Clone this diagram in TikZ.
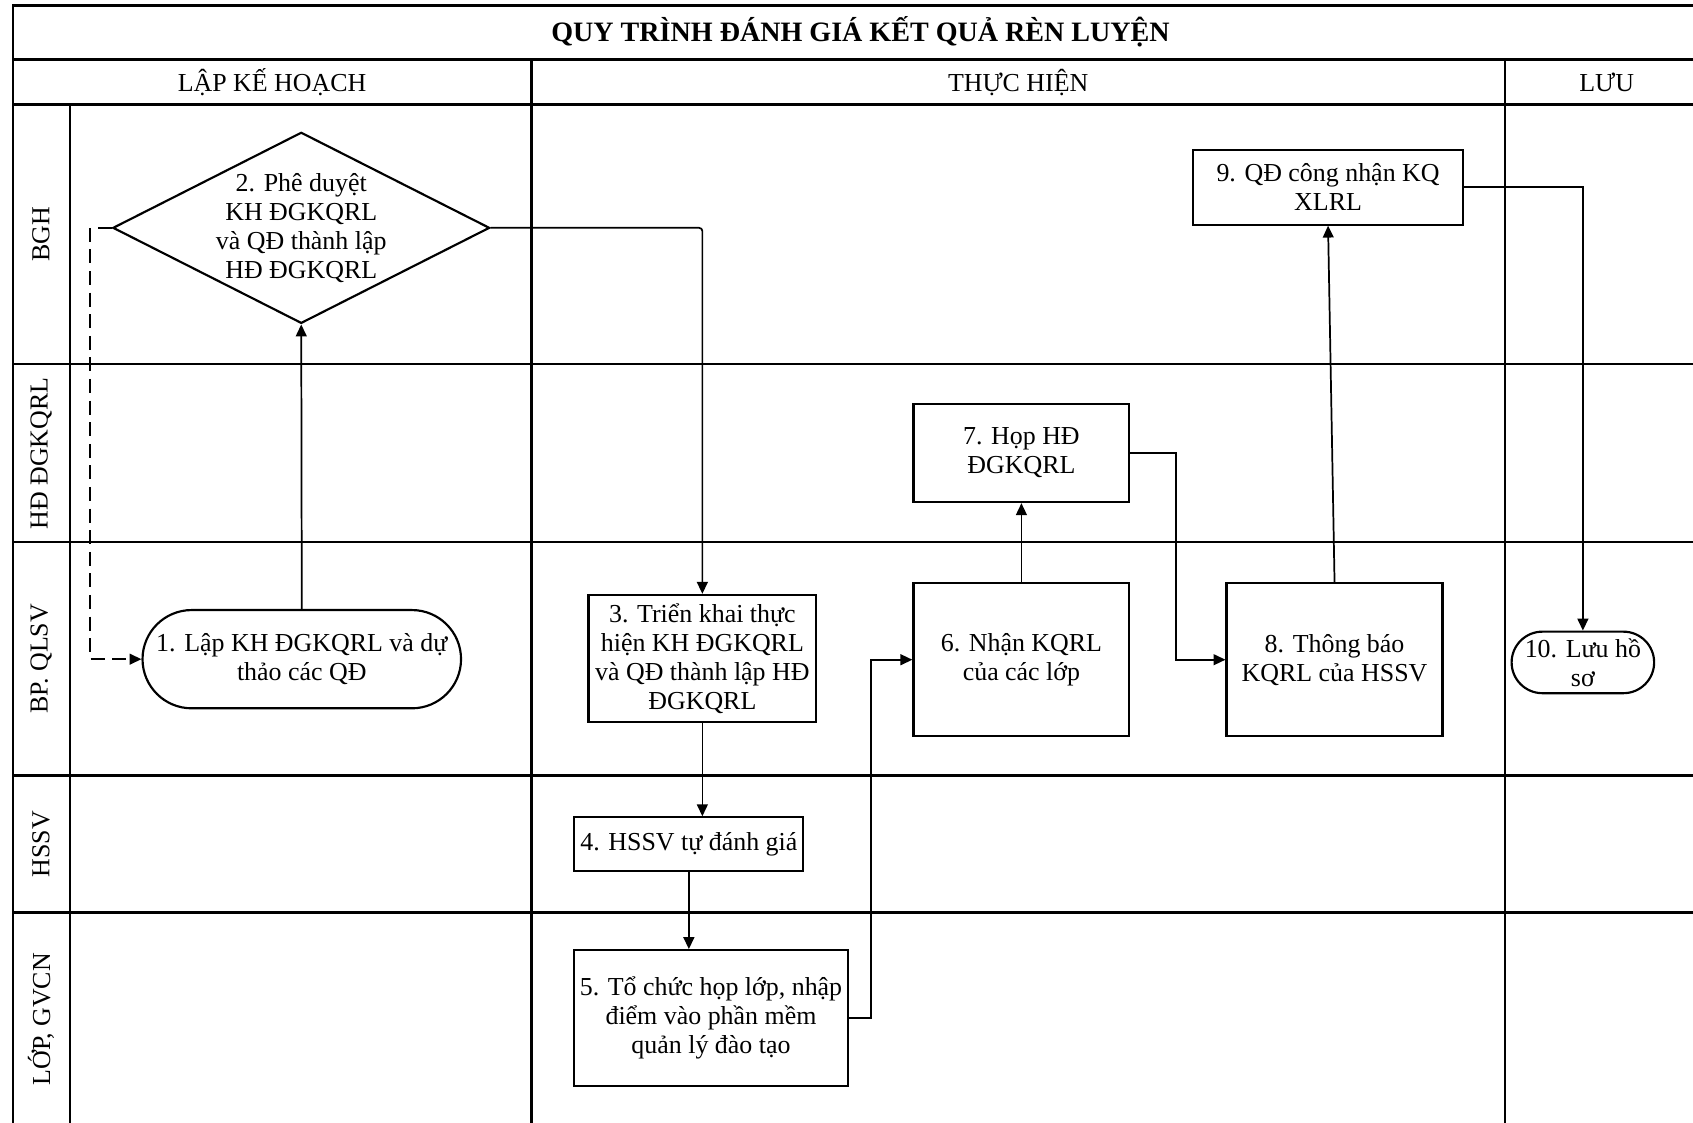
\documentclass[tikz,border=0pt]{standalone}
\usepackage{fontspec}
\setmainfont{Liberation Serif}
\usepackage{tikz}
\usetikzlibrary{arrows.meta, shapes.geometric, positioning}
\tikzset{
	x = .5pt,
	y = -.5pt,
	line width = .8pt,
	>={Triangle[length=5.5pt, width=5pt]},
	font = \fontsize{12}{13.5}\selectfont,
	frame/.style={
		line width=1.2pt
	},
	box/.style={
		draw,
		rectangle,
		line width=1pt,
		align=center,
		inner xsep=1pt,
		inner ysep=2pt
	},
	terminal/.style={
		box,
		rounded corners=#1
	},
	decision/.style={
		draw,
		diamond,
		aspect=2,
		line width=1pt,
		align=center,
		inner xsep=-8pt,
		inner ysep=0pt
	},
	flow/.style={
		->,
		line width=.8pt
	},
	back/.style={
		->,
		line width=.8pt,
		dash pattern=on 6.5pt off 3.5pt
	},
	lane/.style={
		rotate=90
	}
}

\begin{document}
\begin{tikzpicture}
		\useasboundingbox (0,0) rectangle (1568,1040);
		\clip (0,0) rectangle (1568,1040);

		\draw[frame] (1580,5) -- (12,5) -- (12,1050);
		\draw[frame] (12,55) -- (1580,55);
		\draw[frame] (12,97) -- (1580,97);
		\draw[frame] (65,97) -- (65,1050);
		\draw[frame] (492,55) -- (492,1050);
		\draw[frame] (1394,55) -- (1394,1050);
		\foreach \y in {337,502,718,845}
			\draw[frame] (12,\y) -- (1580,\y);

		\node[font=\fontsize{13}{15}\selectfont\bfseries] at (797,29) (title) {QUY TRÌNH ĐÁNH GIÁ KẾT QUẢ RÈN LUYỆN};
		\node at (252,76) (plan) {LẬP KẾ HOẠCH};
		\node at (943,76) (exec) {THỰC HIỆN};
		\node at (1488,76) (store) {LƯU};

		\node[lane] at (38,217) (bgh) {BGH};
		\node[lane] at (38,420) (hd) {HĐ ĐGKQRL};
		\node[lane] at (38,610) (bp) {BP. QLSV};
		\node[lane] at (38,782) (hssv) {HSSV};
		\node[lane] at (38,944) (lop) {LỚP, GVCN};

		\node[terminal=22.75pt, minimum width=147.5pt, minimum height=45.5pt] at (279.5,610.5) (n1) {1. Lập KH ĐGKQRL và dự\\thảo các QĐ};
		\node[decision, minimum width=174.5pt, minimum height=88.5pt] at (279,211) (n2) {2. Phê duyệt\\KH ĐGKQRL\\và QĐ thành lập\\HĐ ĐGKQRL};
		\node[box, minimum width=105.5pt, minimum height=59pt] at (650.5,610) (n3) {3. Triển khai thực\\hiện KH ĐGKQRL\\và QĐ thành lập HĐ\\ĐGKQRL};
		\node[box, minimum width=106pt, minimum height=25pt] at (638,782) (n4) {4. HSSV tự đánh giá};
		\node[box, minimum width=126.5pt, minimum height=63pt] at (658.5,943) (n5) {5. Tổ chức họp lớp, nhập\\điểm vào phần mềm\\quản lý đào tạo};
		\node[box, minimum width=100pt, minimum height=71pt] at (946,611) (n6) {6. Nhận KQRL\\của các lớp};
		\node[box, minimum width=100pt, minimum height=45.5pt] at (946,419.5) (n7) {7. Họp HĐ\\ĐGKQRL};
		\node[box, minimum width=100pt, minimum height=71pt] at (1236,611) (n8) {8. Thông báo\\KQRL của HSSV};
		\node[box, minimum width=125pt, minimum height=34.5pt] at (1230,173.5) (n9) {9. QĐ công nhận KQ\\XLRL};
		\node[terminal=14.25pt, minimum width=66pt, minimum height=28.5pt, inner sep=0pt] at (1466,613.5) (n10) {10. Lưu hồ\\sơ};

		\draw[flow] (n1.north) -- (n2.south);
		\draw[back] (n2.west) -- ++(-20,0) |- (n1.west);
		\draw[flow, rounded corners=1.5pt] (n2.east) -| (n3.north);
		\draw[flow] (n3.south) -- (n3.south |- n4.north);
		\draw[flow] (n4.south) -- (n4.south |- n5.north);
		\draw[flow] (n5.east) -- ++(21,0) |- (n6.west);
		\draw[flow] (n6.north) -- (n7.south);
		\draw[flow] (n7.east) -- ++(42,0) |- (n8.west);
		\draw[flow] (n8.north) -- (n9.south);
		\draw[flow] (n9.east) -| (n10.north);
	\end{tikzpicture}
\end{document}
